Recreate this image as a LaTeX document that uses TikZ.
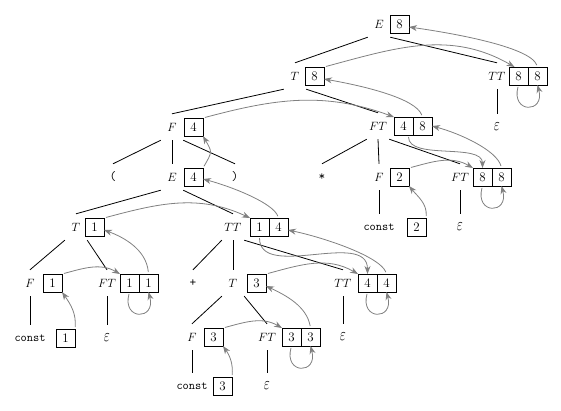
\documentclass[tikz,border=0pt]{standalone}
\usepackage{amssymb, amsmath}
\usepackage{graphicx}
\usepackage{tikz}
\usetikzlibrary{arrows.meta}
\definecolor{flowgray}{RGB}{128, 128, 128}
\newcommand{\epsym}{\scalebox{1.1}[1.5]{$\varepsilon$}}

\begin{document}
\begin{tikzpicture}[x=1pt, y=1pt, font=\fontsize{13}{15}\selectfont,
    lbl/.style={inner sep=0pt, minimum width=22pt, minimum height=26pt},
    val/.style={draw, line width=0.8pt, inner sep=0pt, outer sep=0pt,
      minimum width=19pt, minimum height=18pt, anchor=west},
    branch/.style={line width=0.8pt},
    flow/.style={color=flowgray, line width=0.8pt, shorten <=2pt,
      -{Stealth[length=8pt, width=6pt]}}]
  \useasboundingbox (0, 0) rectangle (561, -411);

  % E -> T TT
  \node[lbl] (e1) at (379, -24) {$E$};
  \node[val] (e1v) at (390, -24) {8};

  \node[lbl] (t1) at (295, -76) {$T$};
  \node[val] (t1v) at (305, -76) {8};
  \node[lbl] (tt1) at (497, -76) {$TT$};
  \node[val] (tt1a) at (509, -76) {8};
  \node[val] (tt1b) at (tt1a.east) {8};
  \node[lbl] (eps1) at (497, -127) {\epsym};

  % T -> F FT
  \node[lbl] (f1) at (172, -127) {$F$};
  \node[val] (f1v) at (184, -127) {4};
  \node[lbl] (ft1) at (378, -126) {$FT$};
  \node[val] (ft1a) at (394, -126) {4};
  \node[val] (ft1b) at (ft1a.east) {8};

  \node[lbl] (lp) at (113, -177) {\texttt{(}};
  \node[lbl] (e2) at (172, -177) {$E$};
  \node[val] (e2v) at (184, -177) {4};
  \node[lbl] (rp) at (235, -177) {\texttt{)}};
  \node[lbl] (star) at (322, -177) {\texttt{*}};
  \node[lbl] (f2) at (379, -177) {$F$};
  \node[val] (f2v) at (390, -177) {2};
  \node[lbl] (ft2) at (460, -177) {$FT$};
  \node[val] (ft2a) at (473, -177) {8};
  \node[val] (ft2b) at (ft2a.east) {8};

  \node[lbl] (t2) at (76, -227) {$T$};
  \node[val] (t2v) at (85, -227) {1};
  \node[lbl] (tt2) at (233, -227) {$TT$};
  \node[val] (tt2a) at (250, -227) {1};
  \node[val] (tt2b) at (tt2a.east) {4};
  \node[lbl, font=\fontsize{12}{14}\selectfont] (c2) at (379, -227) {\texttt{const}};
  \node[val] (c2v) at (407, -227) {2};
  \node[lbl] (eps2) at (460, -227) {\epsym};

  \node[lbl] (f3) at (30, -283) {$F$};
  \node[val] (f3v) at (43, -283) {1};
  \node[lbl] (ft3) at (107, -283) {$FT$};
  \node[val] (ft3a) at (120, -283) {1};
  \node[val] (ft3b) at (ft3a.east) {1};
  \node[lbl] (plus) at (193, -283) {\texttt{+}};
  \node[lbl] (t3) at (233, -283) {$T$};
  \node[val] (t3v) at (247, -283) {3};
  \node[lbl] (tt3) at (343, -283) {$TT$};
  \node[val] (tt3a) at (358, -283) {4};
  \node[val] (tt3b) at (tt3a.east) {4};

  \node[lbl, font=\fontsize{12}{14}\selectfont] (c1) at (30, -338) {\texttt{const}};
  \node[val] (c1v) at (56, -338) {1};
  \node[lbl] (eps3) at (107, -338) {\epsym};
  \node[lbl] (f4) at (192, -337) {$F$};
  \node[val] (f4v) at (204, -337) {3};
  \node[lbl] (ft4) at (267, -337) {$FT$};
  \node[val] (ft4a) at (282, -337) {3};
  \node[val] (ft4b) at (ft4a.east) {3};
  \node[lbl] (eps5) at (343, -337) {\epsym};

  \node[lbl, font=\fontsize{12}{14}\selectfont] (c3) at (192, -386) {\texttt{const}};
  \node[val] (c3v) at (213, -386) {3};
  \node[lbl] (eps4) at (267, -386) {\epsym};

  % tree
  \draw[branch] (e1.south west) -- (t1.north);
  \draw[branch] (e1.south east) -- (tt1.north);
  \draw[branch] (tt1.south) -- (eps1.north);
  \draw[branch] (t1.south west) -- (f1.north);
  \draw[branch] (t1.south east) -- (ft1.north);
  \draw[branch] (f1.south west) -- (lp.north);
  \draw[branch] (f1.south) -- (e2.north);
  \draw[branch] (f1.south east) -- (rp.north);
  \draw[branch] (ft1.south west) -- (star.north);
  \draw[branch] (ft1.south) -- (f2.north);
  \draw[branch] (ft1.south east) -- (ft2.north);
  \draw[branch] (f2.south) -- (c2.north);
  \draw[branch] (ft2.south) -- (eps2.north);
  \draw[branch] (e2.south west) -- (t2.north);
  \draw[branch] (e2.south east) -- (tt2.north);
  \draw[branch] (t2.south west) -- (f3.north);
  \draw[branch] (t2.south east) -- (ft3.north);
  \draw[branch] (tt2.south west) -- (plus.north);
  \draw[branch] (tt2.south) -- (t3.north);
  \draw[branch] (tt2.south east) -- (tt3.north);
  \draw[branch] (f3.south) -- (c1.north);
  \draw[branch] (ft3.south) -- (eps3.north);
  \draw[branch] (t3.south west) -- (f4.north);
  \draw[branch] (t3.south east) -- (ft4.north);
  \draw[branch] (tt3.south) -- (eps5.north);
  \draw[branch] (f4.south) -- (c3.north);
  \draw[branch] (ft4.south) -- (eps4.north);

  % values
  \draw[flow] (t1v.north east) to[out=15, in=150] ([xshift=-4pt]tt1a.north);
  \draw[flow] (tt1b.north) to[out=110, in=-8, out distance=22pt, in distance=40pt] ([yshift=-3pt]e1v.east);
  \draw[flow] (tt1a.south) to[out=-105, in=-75, looseness=4] (tt1b.south);

  \draw[flow] (f1v.north east) to[out=15, in=160] (ft1a.north west);
  \draw[flow] (ft1b.north) to[out=110, in=-10, out distance=20pt, in distance=40pt] ([yshift=-3pt]t1v.east);
  \draw[flow] ([xshift=5pt]ft1a.south) to[out=-90, in=90, looseness=0.8] (ft2a.north);

  \draw[flow] (e2v.north east) to[out=60, in=-60, looseness=1.5] (f1v.south east);
  \draw[flow] (f2v.north east) to[out=15, in=150] (ft2a.north west);
  \draw[flow] (ft2b.north) to[out=105, in=-15, out distance=18pt, in distance=30pt] (ft1b.east);
  \draw[flow] (ft2a.south) to[out=-105, in=-75, looseness=4] (ft2b.south);
  \draw[flow] (c2v.north east) to[out=85, in=-50] (f2v.south east);

  \draw[flow] (t2v.north east) to[out=15, in=155] (tt2a.north west);
  \draw[flow] (tt2b.north) to[out=110, in=-15, out distance=16pt, in distance=30pt] ([yshift=-2pt]e2v.east);
  \draw[flow] (tt2a.south) to[out=-90, in=90] (tt3a.north);

  \draw[flow] (f3v.north east) to[out=15, in=150] (ft3a.north west);
  \draw[flow] (ft3b.north) to[out=95, in=-20, out distance=25pt, in distance=20pt] ([yshift=-3pt]t2v.east);
  \draw[flow] (ft3a.south) to[out=-105, in=-75, looseness=4] (ft3b.south);
  \draw[flow] (c1v.north east) to[out=85, in=-55] (f3v.south east);

  \draw[flow] (t3v.north east) to[out=15, in=150] (tt3a.north west);
  \draw[flow] (tt3b.north) to[out=110, in=-12, out distance=18pt, in distance=40pt] ([yshift=-3pt]tt2b.east);
  \draw[flow] (tt3a.south) to[out=-105, in=-75, looseness=4] (tt3b.south);

  \draw[flow] (f4v.north east) to[out=15, in=150] (ft4a.north west);
  \draw[flow] (ft4b.north) to[out=100, in=-25, out distance=22pt, in distance=22pt] ([yshift=-3pt]t3v.east);
  \draw[flow] (ft4a.south) to[out=-105, in=-75, looseness=4] (ft4b.south);
  \draw[flow] (c3v.north east) to[out=85, in=-55] (f4v.south east);
\end{tikzpicture}
\end{document}
